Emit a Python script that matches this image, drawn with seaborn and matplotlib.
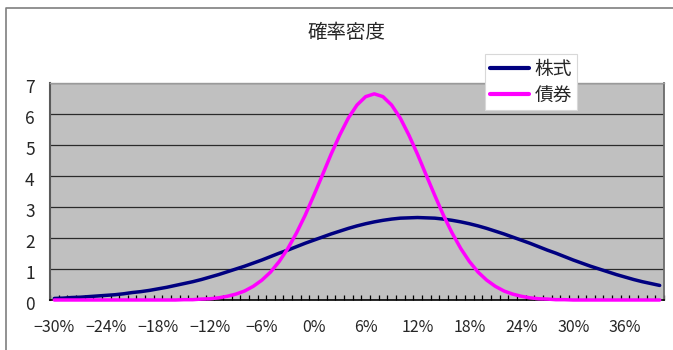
import matplotlib
matplotlib.use("Agg")
import matplotlib.pyplot as plt
import matplotlib.transforms as mtransforms
from matplotlib.lines import Line2D
import pandas as pd
import seaborn as sns

# Return grid (percent) and the density of each asset class
returns_pct = list(range(-30, 41))
stocks = [0.05, 0.06, 0.08, 0.09, 0.11, 0.13, 0.15, 0.17, 0.20, 0.24,
          0.27, 0.31, 0.36, 0.41, 0.47, 0.53, 0.59, 0.66, 0.74, 0.82,
          0.91, 1.00, 1.09, 1.19, 1.29, 1.40, 1.51, 1.61, 1.72, 1.83,
          1.93, 2.03, 2.13, 2.22, 2.31, 2.39, 2.46, 2.52, 2.57, 2.61,
          2.64, 2.65, 2.66, 2.65, 2.64, 2.61, 2.57, 2.52, 2.46, 2.39,
          2.31, 2.22, 2.13, 2.03, 1.93, 1.83, 1.72, 1.61, 1.51, 1.40,
          1.29, 1.19, 1.09, 1.00, 0.91, 0.82, 0.74, 0.66, 0.59, 0.53,
          0.47]
bonds = [0.00, 0.00, 0.00, 0.00, 0.00, 0.00, 0.00, 0.00, 0.00, 0.00,
         0.00, 0.00, 0.00, 0.00, 0.00, 0.01, 0.01, 0.03, 0.04, 0.07,
         0.12, 0.19, 0.29, 0.44, 0.64, 0.90, 1.24, 1.66, 2.16, 2.73,
         3.37, 4.03, 4.70, 5.32, 5.87, 6.29, 6.56, 6.65, 6.56, 6.29,
         5.87, 5.32, 4.70, 4.03, 3.37, 2.73, 2.16, 1.66, 1.24, 0.90,
         0.64, 0.44, 0.29, 0.19, 0.12, 0.07, 0.04, 0.03, 0.01, 0.01,
         0.00, 0.00, 0.00, 0.00, 0.00, 0.00, 0.00, 0.00, 0.00, 0.00,
         0.00]
series_names = ["株式", "債券"]
series_colors = ["#000080", "#FF00FF"]
x_tick_values = list(range(-30, 37, 6))
x_tick_labels = ["−30%", "−24%", "−18%", "−12%", "−6%", "0%",
                 "6%", "12%", "18%", "24%", "30%", "36%"]
y_tick_values = list(range(0, 8))
title_text = "確率密度"

sns.set_style("white")
plt.rcParams["font.family"] = ["Noto Sans CJK JP", "DejaVu Sans"]

df = pd.concat([
    pd.DataFrame({"return": returns_pct, "density": stocks, "series": series_names[0]}),
    pd.DataFrame({"return": returns_pct, "density": bonds, "series": series_names[1]}),
])

W, H = 673, 350
fig = plt.figure(figsize=(W / 100, H / 100), dpi=100)
fig.patch.set_facecolor("white")

# chart-area border (left and top edges)
fig.add_artist(Line2D([6 / W, 6 / W, 1.0], [0.0, 1 - 8 / H, 1 - 8 / H],
                      transform=fig.transFigure, color="#7f7f7f", lw=1.2))

ax = fig.add_axes([50 / W, 50 / H, 614 / W, 217 / H])
ax.set_facecolor("#C0C0C0")

sns.lineplot(data=df, x="return", y="density", hue="series",
             palette=dict(zip(series_names, series_colors)),
             linewidth=2.5, ax=ax, legend=False, zorder=3)
for line in ax.get_lines():
    line.set_clip_on(False)

ax.set_xlim(-30.5, 40.5)
ax.set_ylim(0, 7)
ax.set_xlabel("")
ax.set_ylabel("")

# horizontal gridlines
for yv in y_tick_values[1:]:
    ax.axhline(yv, color="#2a2a2a", lw=0.9, zorder=1)

ax.set_xticks(x_tick_values)
ax.set_xticklabels(x_tick_labels, fontsize=11.5)
ax.set_xticks([v - 0.5 for v in range(-30, 42)], minor=True)
ax.tick_params(axis="x", which="major", length=0, pad=14)
ax.tick_params(axis="x", which="minor", direction="in", length=3.5,
               width=0.9, color="black", bottom=True)
ax.set_yticks(y_tick_values)
ax.set_yticklabels([str(v) for v in y_tick_values], fontsize=12.5)
ax.tick_params(axis="y", length=0, pad=11)
offset = mtransforms.ScaledTranslation(0, -3 / 100, fig.dpi_scale_trans)
for lbl in ax.get_yticklabels():
    lbl.set_transform(lbl.get_transform() + offset)

for side, col, lw in [("left", "#5a5a5a", 1.5), ("bottom", "#000000", 1.2),
                      ("top", "#9a9a9a", 1.0), ("right", "#6a6a6a", 1.3)]:
    ax.spines[side].set_visible(True)
    ax.spines[side].set_color(col)
    ax.spines[side].set_linewidth(lw)
    ax.spines[side].set_zorder(2)

fig.text(347 / W, 1 - 32 / H, title_text, ha="center", va="center", fontsize=14)

handles = [Line2D([], [], color=c, lw=3) for c in series_colors]
leg = fig.legend(handles, series_names, loc="upper left",
                 bbox_to_anchor=(485 / W, 1 - 54 / H), fontsize=13.5,
                 frameon=True, fancybox=False, framealpha=1,
                 handlelength=2.1, handletextpad=0.3, labelspacing=0.25,
                 borderpad=0.25, borderaxespad=0)
leg.get_frame().set_edgecolor("#d8d8d8")
leg.get_frame().set_linewidth(0.8)

fig.savefig("out.png", dpi=100)
